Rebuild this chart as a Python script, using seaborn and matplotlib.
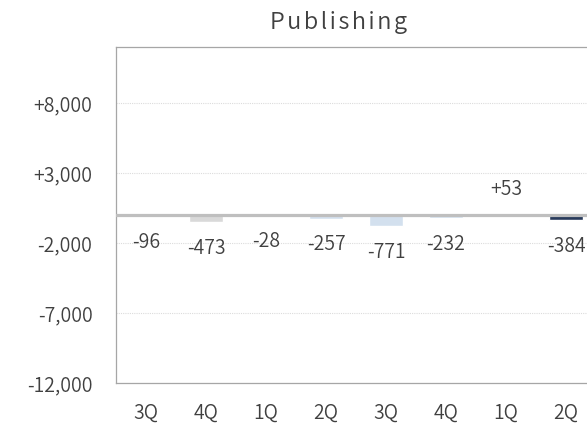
import matplotlib
matplotlib.use('Agg')
import matplotlib.pyplot as plt
import seaborn as sns
import pandas as pd

# data
quarters = ['3Q', '4Q', '1Q', '2Q', '3Q', '4Q', '1Q', '2Q']
values = [-96, -473, -28, -257, -771, -232, 53, -384]
bar_colors = ['#d9d9d9', '#d9d9d9', '#cfe0f2', '#cfe0f2', '#cfe0f2', '#cfe0f2', '#1f3864', '#1f3864']
y_ticks = [-12000, -7000, -2000, 3000, 8000]

sns.set_style('white')
plt.rcParams['font.family'] = ['Noto Sans CJK JP', 'DejaVu Sans']
plt.rcParams['font.weight'] = 350

df = pd.DataFrame({'pos': list(range(len(values))), 'value': values})

fig = plt.figure(figsize=(5.87, 4.24), dpi=100)
ax = fig.add_axes([116 / 587, 41 / 424, 480 / 587, 336 / 424])

sns.barplot(data=df, x='pos', y='value', hue='pos', palette=bar_colors,
            legend=False, width=0.58, ax=ax, zorder=2)

ax.set_xlim(-0.5, len(values) - 0.5)
ax.set_ylim(-12000, 12000)
ax.set_yticks(y_ticks)
ax.set_yticklabels([f'+{v:,}' if v > 0 else f'-{abs(v):,}' for v in y_ticks])
ax.set_xticks(range(len(quarters)))
ax.set_xticklabels(quarters)
ax.tick_params(axis='both', length=0, labelsize=14, colors='#404040')
ax.tick_params(axis='y', pad=17)
ax.tick_params(axis='x', pad=14)
ax.set_xlabel('')
ax.set_ylabel('')

for t in y_ticks:
    ax.axhline(t, color='#dcdcdc', lw=0.8, ls=(0, (1, 1)), zorder=1)
ax.axhline(0, color='#bfbfbf', lw=2.3, zorder=3)

for s in ['left', 'bottom', 'top', 'right']:
    ax.spines[s].set_color('#a6a6a6')
    ax.spines[s].set_linewidth(0.9)

# value labels
for i, v in enumerate(values):
    txt = f'+{v}' if v > 0 else f'-{abs(v)}'
    off = 18 if v > 0 else -19
    ax.annotate(txt, (i, v), xytext=(0, off), textcoords='offset points',
                ha='center', va='center', fontsize=14, color='#404040')

# slightly letter-spaced title like the original
title = fig.text(339 / 587, 1 - 29 / 424, '\u200a'.join('Publishing'),
                 ha='center', va='baseline', fontsize=17, color='#404040')

fig.savefig('out.png', dpi=100)
